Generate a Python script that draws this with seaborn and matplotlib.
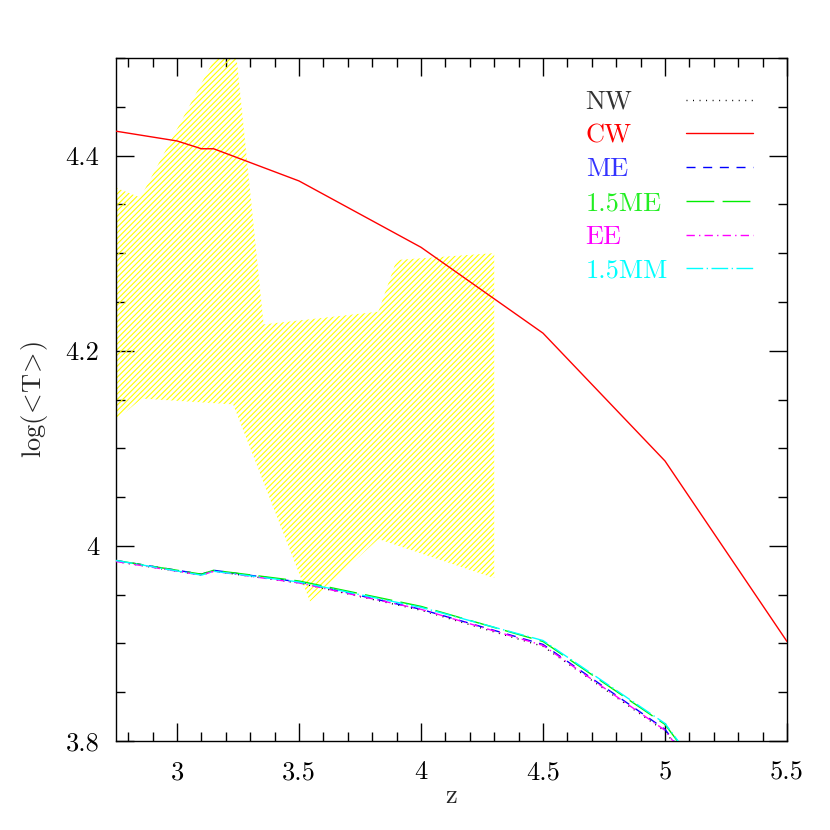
import matplotlib

matplotlib.use("Agg")
import matplotlib.pyplot as plt
import seaborn as sns

# redshift grid of the model curves
z_cw = [2.75, 3.0, 3.1, 3.15, 3.5, 4.0, 4.5, 5.0, 5.5]
t_cw = [4.425, 4.415, 4.407, 4.407, 4.374, 4.306, 4.218, 4.087, 3.902]

z_low = [2.75, 3.1, 3.15, 3.5, 4.0, 4.5, 5.0, 5.5]
t_nw = [3.984, 3.970, 3.974, 3.962, 3.934, 3.897, 3.810, 3.64]
t_me = [3.985, 3.971, 3.975, 3.963, 3.935, 3.899, 3.812, 3.645]
t_15me = [3.985, 3.971, 3.975, 3.964, 3.938, 3.902, 3.817, 3.65]
t_ee = [3.984, 3.970, 3.974, 3.962, 3.935, 3.898, 3.811, 3.642]
t_15mm = [3.985, 3.970, 3.974, 3.963, 3.937, 3.903, 3.818, 3.65]

# observed band (upper and lower edges)
z_band_hi = [2.75, 2.85, 3.23, 3.355, 3.825, 3.90, 4.30]
t_band_hi = [4.367, 4.357, 4.535, 4.227, 4.240, 4.293, 4.300]
z_band_lo = [2.75, 2.855, 3.23, 3.545, 3.825, 4.30]
t_band_lo = [4.129, 4.151, 4.145, 3.943, 4.007, 3.967]

labels = ["NW", "CW", "ME", "1.5ME", "EE", "1.5MM"]
colors = ["black", "red", "blue", "#00ee00", "magenta", "cyan"]
text_colors = ["#333333", "red", "#3333ff", "#22ee22", "magenta", "cyan"]
styles = [
    (0, (0.7, 4)),
    "-",
    (0, (6.5, 5.5)),
    (0, (20, 6)),
    (0, (6, 3, 1, 3)),
    (0, (12, 2.5, 1, 2.5)),
]

sns.set_style("ticks")
plt.rcParams["font.family"] = ["cmr10", "DejaVu Serif"]
plt.rcParams["mathtext.fontset"] = "cm"
plt.rcParams["axes.formatter.use_mathtext"] = True
plt.rcParams["hatch.linewidth"] = 0.8

fig = plt.figure(figsize=(8.3, 8.3), dpi=100)
ax = fig.add_axes([0.1398, 0.1072, 0.8084, 0.8229])

# hatched band
band_x = z_band_hi + z_band_lo[::-1]
band_y = t_band_hi + t_band_lo[::-1]
ax.fill(band_x, band_y, facecolor="none", edgecolor="yellow", hatch="//////",
        linewidth=0, zorder=1)

curves = [(z_low, t_nw), (z_cw, t_cw), (z_low, t_me), (z_low, t_15me),
          (z_low, t_ee), (z_low, t_15mm)]
for (zz, tt), lab, col, ls in zip(curves, labels, colors, styles):
    sns.lineplot(x=zz, y=tt, ax=ax, color=col, linestyle=ls, linewidth=1,
                 label=lab, sort=False, zorder=3, legend=False)

ax.set_xlim(2.75, 5.5)
ax.set_ylim(3.8, 4.5)
ax.set_xticks([3, 3.5, 4, 4.5, 5, 5.5])
ax.set_xticklabels(["3", "3.5", "4", "4.5", "5", "5.5"])
ax.set_xticks([x / 10 for x in range(28, 55)], minor=True)
ax.set_yticks([3.8, 4.0, 4.2, 4.4])
ax.set_yticklabels(["3.8", "4", "4.2", "4.4"])
ax.set_yticks([3.8 + 0.05 * i for i in range(15)], minor=True)
ax.tick_params(which="both", direction="in", top=True, right=True,
               width=1, colors="black", labelsize=19)
ax.tick_params(which="major", length=13)
ax.tick_params(which="minor", length=6.5)
ax.tick_params(axis="x", pad=14)
ax.tick_params(axis="y", pad=12)
for sp in ax.spines.values():
    sp.set_linewidth(1)
    sp.set_color("black")

ax.set_xlabel("z", fontsize=19, labelpad=0)
ax.set_ylabel(r"$\mathrm{log}(\!<\!\mathrm{T}\!>\!)$", fontsize=19,
              labelpad=11)

# legend: labels in one column, line samples in another
handles = ax.get_lines()[: len(labels)]
common = dict(loc="upper left", frameon=False, fontsize=19, borderpad=0,
              borderaxespad=0, labelspacing=0.38)
leg_txt = ax.legend(handles, labels, bbox_to_anchor=(0.70, 0.953),
                    handlelength=0, handletextpad=0, labelcolor=text_colors,
                    **common)
for h in leg_txt.legend_handles:
    h.set_visible(False)
ax.add_artist(leg_txt)
ax.legend(handles, [""] * len(labels), bbox_to_anchor=(0.849, 0.953),
          handlelength=2.54, handletextpad=0, **common)

fig.savefig("out.png", dpi=100)
